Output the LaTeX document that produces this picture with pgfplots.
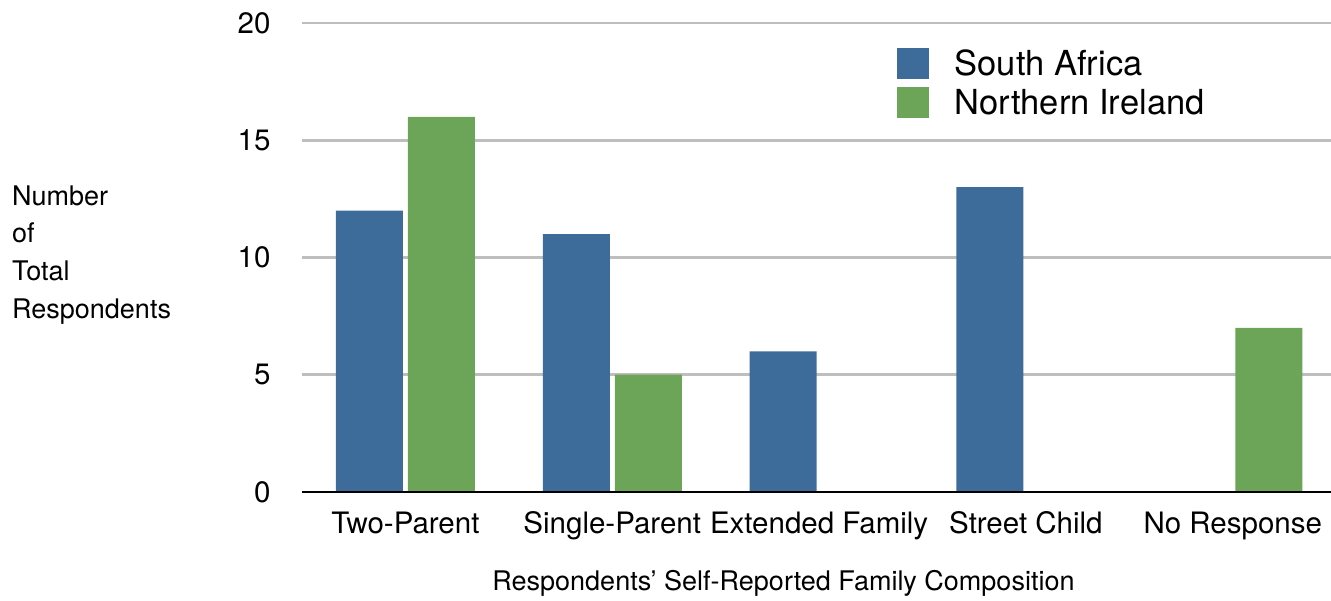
\documentclass[border=0pt]{standalone}
\usepackage{pgfplots}
\pgfplotsset{compat=1.18}
\usepackage{fontspec}
\setmainfont{TeX Gyre Heros}
\definecolor{saBlue}{RGB}{61,108,155}
\definecolor{niGreen}{RGB}{108,164,88}
\definecolor{gridGray}{RGB}{190,190,190}
\begin{document}
\begin{tikzpicture}[x=1pt,y=1pt]
\begin{axis}[
  at={(0,0)}, anchor=south west,
  scale only axis,
  width=1029pt, height=469pt,
  xmin=-0.5, xmax=4.475,
  ymin=0, ymax=20,
  ytick={0,5,10,15,20},
  xtick={0,1,2,3,4},
  xticklabels={Two-Parent,Single-Parent,Extended Family,Street Child,No Response},
  axis line style={draw=none},
  major tick length=0pt,
  ymajorgrids,
  grid style={gridGray, line width=2.6pt},
  ybar, bar width=67pt,
  /pgf/number format/assume math mode=true,
  yticklabel style={font=\fontsize{29.5}{34}\selectfont, anchor=east, xshift=-28pt},
  xticklabel style={font=\fontsize{29.5}{34}\selectfont, yshift=-16pt},
  xlabel={Respondents’ Self-Reported Family Composition},
  xlabel style={font=\fontsize{27}{31}\selectfont, at={(axis description cs:0.5,0)}, anchor=center, yshift=-91pt, xshift=-33pt},
  legend style={draw=none, fill=none, at={(axis cs:2.36,19.05)}, anchor=north west,
    font=\fontsize{34.5}{39}\selectfont, row sep=8pt,
    /tikz/every even column/.append style={column sep=0pt}},
  legend cell align=left,
  legend image code/.code={\fill[#1] (0pt,-15.5pt) rectangle (32pt,15.5pt);},
  clip=false,
]
\addplot[fill=saBlue, draw=none, bar shift=-36pt] coordinates {(0,12) (1,11) (2,6) (3,13) (4,0)};
\addplot[fill=niGreen, draw=none, bar shift=36pt] coordinates {(0,16) (1,5) (2,0) (3,0) (4,7)};
\legend{\hspace{24pt}South Africa,\hspace{24pt}Northern Ireland}
\draw[black, line width=2.8pt] (axis cs:-0.5,0) -- (axis cs:4.475,0);
\end{axis}
\node[anchor=west, align=left, font=\fontsize{27}{37.8}\selectfont, inner sep=0pt] at (-290pt,237pt)
  {Number\\of\\Total\\Respondents};
\pgfresetboundingbox
\path[use as bounding box] (-302pt,-109pt) rectangle (1029pt,492pt);
\end{tikzpicture}
\end{document}
